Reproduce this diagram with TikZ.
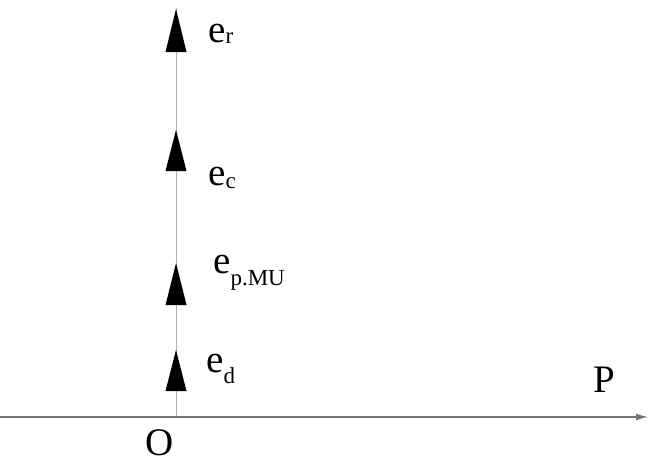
\documentclass[tikz,border=0pt]{standalone}
\usepackage{fontspec}
\setmainfont{Liberation Serif}
\usetikzlibrary{arrows.meta}
\newcommand{\bigtxt}{\fontsize{39}{40}\selectfont}
\newcommand{\subtxt}[2]{\raisebox{-#1pt}{\fontsize{23}{24}\selectfont #2}}
\tikzset{
  lbl/.style={anchor=base west, inner sep=0pt, font=\bigtxt},
  headtri/.style={fill=black, draw=none},
  axisline/.style={draw=black!55, line width=1.2pt},
  vline/.style={draw=black!30, line width=0.8pt}
}
\begin{document}
\begin{tikzpicture}[x=1pt,y=-1pt]
\useasboundingbox (0,0) rectangle (650,464);
\coordinate (origin) at (176,417);
\coordinate (top) at (176,8);
\coordinate (left) at (0,417);
\coordinate (right) at (648,417);
\draw[vline] (origin) -- (top);
\draw[axisline, -{Latex[length=12pt,width=7pt]}] (left) -- (right);
% arrow heads on vertical line
\foreach \tip/\base in {9/52, 130/171, 263/305, 350/391}{
  \fill[headtri] (176,\tip) -- (186.5,\base) -- (165.5,\base) -- cycle;
}
\node[lbl] (er) at (208,42) {e\subtxt{1}{r}};
\node[lbl] (ec) at (208,185) {e\subtxt{3}{c}};
\node[lbl] (ep) at (213,273) {e\subtxt{12}{p.MU}};
\node[lbl] (ed) at (206,372) {e\subtxt{11}{d}};
\node[lbl] (P) at (593,392) {P};
\node[lbl] (O) at (145,455) {O};
\end{tikzpicture}
\end{document}
